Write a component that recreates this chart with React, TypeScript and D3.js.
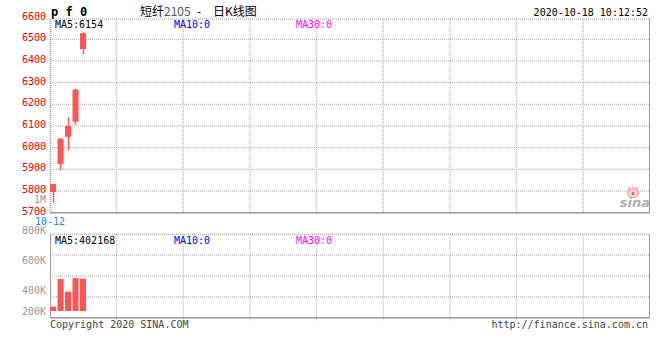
import React from "react";
import * as d3 from "d3";

const dates = ["10-12", "10-13", "10-14", "10-15", "10-16"];
const opens = [5795, 5925, 6050, 6120, 6455];
const closes = [5832, 6042, 6100, 6268, 6528];
const highs = [5832, 6042, 6140, 6272, 6532];
const lows = [5745, 5895, 5988, 6105, 6430];
const volumes = [71500, 532000, 321000, 549000, 537340];
const priceTicks = [6600, 6500, 6400, 6300, 6200, 6100, 6000, 5900, 5800, 5700];
const volTicks = ["800K", "600K", "400K", "200K"];
const slotCount = 80;

const W = 660, H = 360;
const L = 50, R = 650;
const mainTop = 19, mainBottom = 212.7;
const volTop = 234.3, volBottom = 317.7, volBase = 311;
const mono = "'DejaVu Sans Mono', 'Liberation Mono', monospace";
const cjk = "'Noto Sans CJK SC', sans-serif";
const up = "#ff5555";

export default function App() {
  const y = d3.scaleLinear().domain([5700, 6600]).range([212.7, 17.6]);
  const x = d3
    .scaleBand<number>()
    .domain(d3.range(slotCount))
    .range([49.25, 49.25 + slotCount * 7.5])
    .paddingInner(0.2)
    .paddingOuter(0.1);
  const step = x.step();
  const bw = 6;
  const cx = (i: number) => 49.25 + step * i + step / 2;
  const yv = d3.scaleLinear().domain([0, 1276000]).range([volBase, volTop]);
  const vGrid = d3.range(1, 9).map((k) => L + (k * (R - L)) / 9);
  const volGrid = [1, 2, 3].map((k) => volTop + (k * (volBottom - volTop)) / 4);
  const volLabelY = [volTop - 4, volTop + 26, volTop + 56, volBase];

  return (
    <svg width={W} height={H} style={{ position: "absolute", left: 0, top: 0 }}>
      <rect width={W} height={H} fill="#fff" />
      {/* header */}
      <text x={51} y={16} fontFamily={mono} fontWeight="bold" fontSize={12} fill="#000">
        p f 0
      </text>
      <text x={140} y={16} fontFamily={cjk} fontSize={12} fill="#000">
        短纤<tspan fill="#555">2105</tspan>
      </text>
      <text x={197} y={16} fontFamily={cjk} fontSize={12} fill="#000">-</text>
      <text x={213} y={16} fontFamily={cjk} fontSize={12} fill="#000">日K线图</text>
      <text x={648} y={16} textAnchor="end" fontFamily={mono} fontSize={10} fill="#000">
        2020-10-18 10:12:52
      </text>

      {/* main grid */}
      {priceTicks.slice(1, -1).map((t) => (
        <line key={t} x1={L} x2={R} y1={y(t)} y2={y(t)} stroke="#aaa" strokeDasharray="1,1" />
      ))}
      {vGrid.map((gx) => (
        <line key={gx} x1={gx} x2={gx} y1={mainTop} y2={mainBottom} stroke="#aaa" strokeDasharray="1,1" />
      ))}
      <line x1={L} x2={R} y1={mainTop} y2={mainTop} stroke="#999" strokeDasharray="1,1" />
      <line x1={L + 0.5} x2={L + 0.5} y1={mainTop} y2={mainBottom} stroke="#999" strokeDasharray="1,1" strokeWidth={1.5} />
      <line x1={R - 0.5} x2={R - 0.5} y1={mainTop} y2={mainBottom} stroke="#999" />
      <line x1={L} x2={R} y1={mainBottom} y2={mainBottom} stroke="#999" strokeWidth={1.5} />

      {priceTicks.map((t) => (
        <text key={t} x={46} y={y(t) + 2} textAnchor="end" fontFamily={mono} fontSize={10} fill="#ee0000">
          {t}
        </text>
      ))}
      <text x={46} y={203} textAnchor="end" fontFamily={mono} fontSize={10} fill="#999">
        1M
      </text>
      <text x={35} y={225} fontFamily={mono} fontSize={10} fill="#1a86d0">
        {dates[0]}
      </text>

      {/* MA labels */}
      <text x={55} y={28} fontFamily={mono} fontSize={10} fill="#000">MA5:6154</text>
      <text x={174} y={28} fontFamily={mono} fontSize={10} fill="#0000ff">MA10:0</text>
      <text x={296} y={28} fontFamily={mono} fontSize={10} fill="#ff00ff">MA30:0</text>

      {/* candles */}
      {opens.map((o, i) => {
        const c = closes[i];
        const top = y(Math.max(o, c));
        const bot = y(Math.min(o, c));
        const xc = Math.round(cx(i) - 0.5) + 0.5;
        const bx = Math.max(L, x(i)!);
        return (
          <g key={i}>
            <line x1={xc} x2={xc} y1={y(highs[i])} y2={y(lows[i])} stroke={up} strokeWidth={1.5} />
            <rect x={bx} width={bw} y={top} height={Math.max(1, bot - top)} fill={up} />
          </g>
        );
      })}

      {/* sina logo */}
      <g>
        <ellipse cx={633} cy={193} rx={5.5} ry={4.5} fill="#fbd0d0" stroke="#f4a0a0" strokeWidth={1.2} />
        <circle cx={633} cy={193.5} r={1.6} fill="#888" />
        <path d="M628,187 l2,2 M633,185.5 l0,2.5 M638,187 l-2,2" stroke="#f4a0a0" strokeWidth={1.2} />
        <text x={650} y={207} textAnchor="end" fontFamily="'DejaVu Sans', sans-serif" fontStyle="italic" fontWeight="bold" fontSize={13} fill="#b0b0b0">
          sina
        </text>
      </g>

      {/* volume panel */}
      {volGrid.map((gy) => (
        <line key={gy} x1={L} x2={R} y1={gy} y2={gy} stroke="#aaa" strokeDasharray="1,1" />
      ))}
      {vGrid.map((gx) => (
        <line key={"v" + gx} x1={gx} x2={gx} y1={volTop} y2={volBottom + 3} stroke="#aaa" strokeDasharray="1,1" />
      ))}
      <line x1={L} x2={R} y1={volTop} y2={volTop} stroke="#999" strokeDasharray="1,1" />
      <line x1={L + 0.5} x2={L + 0.5} y1={volTop} y2={volBottom} stroke="#999" />
      <line x1={R - 0.5} x2={R - 0.5} y1={volTop} y2={volBottom} stroke="#999" />
      <line x1={L} x2={R} y1={volBottom} y2={volBottom} stroke="#999" strokeWidth={1.5} />
      {volTicks.map((t, i) => (
        <text key={t} x={46} y={volLabelY[i] + 4} textAnchor="end" fontFamily={mono} fontSize={10} fill="#999">
          {t}
        </text>
      ))}
      <text x={55} y={244} fontFamily={mono} fontSize={10} fill="#000">MA5:402168</text>
      <text x={174} y={244} fontFamily={mono} fontSize={10} fill="#0000ff">MA10:0</text>
      <text x={296} y={244} fontFamily={mono} fontSize={10} fill="#ff00ff">MA30:0</text>
      {volumes.map((v, i) => {
        const bx = Math.max(L, x(i)!);
        return <rect key={i} x={bx} width={bw} y={yv(v)} height={volBase - yv(v)} fill={up} />;
      })}

      {/* footer */}
      <text x={50} y={328} fontFamily={mono} fontSize={10} fill="#444">
        Copyright 2020 SINA.COM
      </text>
      <text x={648} y={328} textAnchor="end" fontFamily={mono} fontSize={10} fill="#444">
        http://finance.sina.com.cn
      </text>
    </svg>
  );
}
